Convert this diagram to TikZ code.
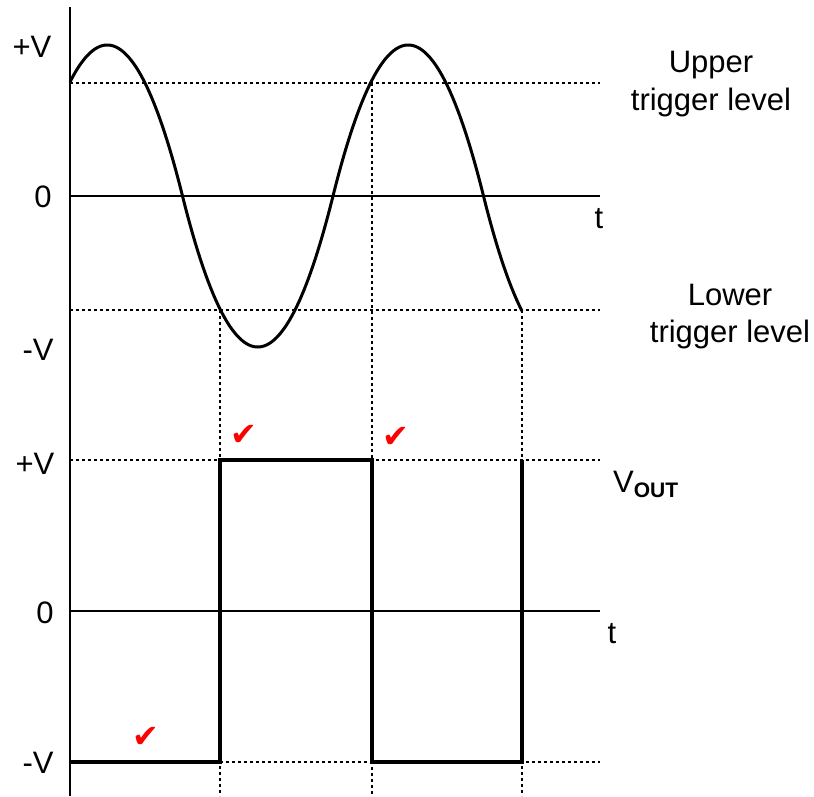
\documentclass[tikz,border=0pt]{standalone}
\usepackage{fontspec}
\setmainfont{Liberation Sans}
\newfontfamily\symfont{DejaVu Sans}
\begin{document}
\begin{tikzpicture}[x=1pt,y=-1pt,
  declare function={ph(\t)=mod(\t-32,301)/150.5; psin(\u)=(\u<1) ? 4*\u*(1-\u) : -4*(\u-1)*(2-\u);},
  lbl/.style={inner sep=0pt, anchor=base, font=\fontsize{31}{36}\selectfont},
  axisline/.style={line width=2pt},
  zeroline/.style={line width=1.6pt},
  dotline/.style={line width=2pt, dash pattern=on 3pt off 3pt},
  wave/.style={line width=3pt, line join=round},
  squarewave/.style={line width=3.5pt, line join=miter},
  tickmark/.style={inner sep=0pt, text=red, font=\symfont\fontsize{32}{32}\selectfont}]
\useasboundingbox (0,0) rectangle (814,796);
% coordinates
\coordinate (axtop) at (70,7);
\coordinate (axbot) at (70,796);
\coordinate (z1l) at (70,196);
\coordinate (z1r) at (600,196);
\coordinate (utl) at (70,83);
\coordinate (utr) at (600,83);
\coordinate (ltl) at (70,310);
\coordinate (ltr) at (600,310);
\coordinate (pvl) at (70,460);
\coordinate (pvr) at (600,460);
\coordinate (z2l) at (70,611);
\coordinate (z2r) at (600,611);
\coordinate (nvl) at (70,762);
\coordinate (nvr) at (600,762);
\coordinate (v1t) at (220,310);
\coordinate (v1b) at (220,796);
\coordinate (v2t) at (372,83);
\coordinate (v2b) at (372,796);
\coordinate (v3t) at (522,310);
\coordinate (v3b) at (522,796);
\coordinate (s1) at (220,762);
\coordinate (s2) at (220,460);
\coordinate (s3) at (372,460);
\coordinate (s4) at (372,762);
\coordinate (s5) at (522,762);
\coordinate (s6) at (522,460);
% dotted guides
\draw[dotline] (utl) -- (utr);
\draw[dotline] (ltl) -- (ltr);
\draw[dotline] (pvl) -- (pvr);
\draw[dotline] (nvl) -- (nvr);
\draw[dotline] (v1t) -- (v1b);
\draw[dotline] (v2t) -- (v2b);
\draw[dotline] (v3t) -- (v3b);
% axes
\draw[zeroline] (z1l) -- (z1r);
\draw[zeroline] (z2l) -- (z2r);
\draw[axisline] (axtop) -- (axbot);
% input wave
\draw[wave] plot[domain=70:522, samples=300, variable=\t] (\t, {196-151*psin(ph(\t))});
% output square wave
\draw[squarewave] (nvl) -- (s1) -- (s2) -- (s3) -- (s4) -- (s5) -- (s6);
% labels
\node[lbl] (pv1) at (32,57) {+V};
\node[lbl] (zero1) at (43,207) {0};
\node[lbl] (nv1) at (38,360) {-V};
\node[lbl] (t1) at (599,228) {t};
\node[lbl] (up1) at (711,72) {Upper};
\node[lbl] (up2) at (711,110) {trigger level};
\node[lbl] (lo1) at (730,305) {Lower};
\node[lbl] (lo2) at (730,342) {trigger level};
\node[lbl] (pv2) at (35,474) {+V};
\node[lbl] (zero2) at (45,623) {0};
\node[lbl] (nv2) at (38,773) {-V};
\node[lbl] (t2) at (612,643) {t};
\node[lbl, anchor=base west] (vout) at (613,492) {V\raisebox{-5pt}{\fontsize{21}{21}\selectfont\bfseries OUT}};
% check marks
\node[tickmark] (c1) at (244,435) {✔};
\node[tickmark] (c2) at (396,437) {✔};
\node[tickmark] (c3) at (146,737) {✔};
\end{tikzpicture}
\end{document}
